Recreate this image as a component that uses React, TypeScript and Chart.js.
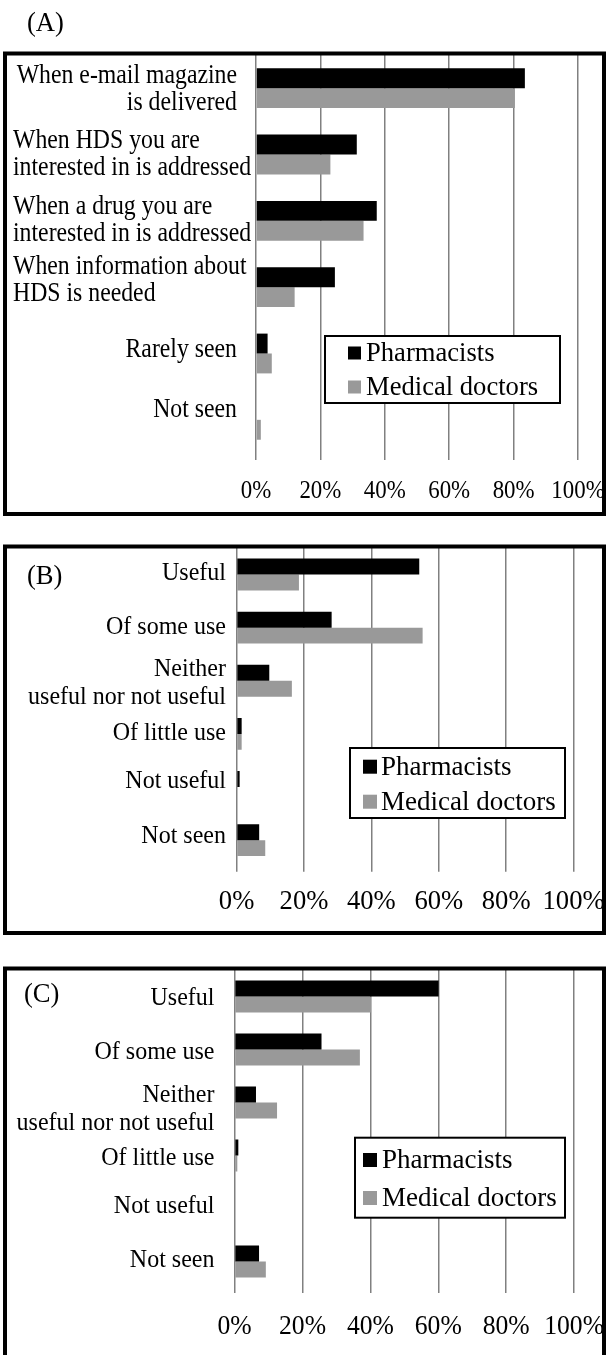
import React, { useEffect, useRef } from "react";
import { Chart, registerables } from "chart.js";

Chart.register(...registerables);

const FONT = '"Liberation Serif", "Times New Roman", serif';

// ---- data ----
const SERIES_NAMES = ["Pharmacists", "Medical doctors"];
const SERIES_COLORS = ["#000000", "#999999"];
const X_TICK_LABELS = ["0%", "20%", "40%", "60%", "80%", "100%"];
const PANEL_TITLES = ["(A)", "(B)", "(C)"];

const A_CATEGORIES = [
  ["When e-mail magazine", "is delivered"],
  ["When HDS you are", "interested in is addressed"],
  ["When a drug you are", "interested in is addressed"],
  ["When information about", "HDS is needed"],
  ["Rarely seen"],
  ["Not seen"],
];
const A_PHARMACISTS = [83.5, 31.3, 37.5, 24.5, 3.6, 0];
const A_DOCTORS = [80.4, 23.1, 33.4, 12.0, 4.9, 1.5];

const USEFULNESS_CATEGORIES = [
  ["Useful"],
  ["Of some use"],
  ["Neither", "useful nor not useful"],
  ["Of little use"],
  ["Not useful"],
  ["Not seen"],
];
const B_PHARMACISTS = [54.2, 28.2, 9.7, 1.5, 0.9, 6.7];
const B_DOCTORS = [18.5, 55.2, 16.4, 1.5, 0, 8.5];
const C_PHARMACISTS = [60.1, 25.6, 6.3, 1.1, 0, 7.2];
const C_DOCTORS = [40.2, 36.9, 12.5, 0.8, 0, 9.2];

// ---- layout / style ----
type TextStyle = { size: number; sx: number };
type Spec = {
  title: string;
  top: number;
  height: number;
  labels: string[][];
  values: number[][];
  area: { left: number; right: number; top: number; bottom: number };
  box: { x1: number; y1: number; x2: number; y2: number };
  titlePos: { x: number; y: number };
  labelAlign: ("left" | "right")[];
  labelLeftX: number;
  labelRightX: number;
  labelDy: number[];
  lineGap: number;
  labelFont: TextStyle;
  tickFont: TextStyle;
  tickLength: number;
  tickDy: number;
  legendFont: TextStyle;
  legend: { x: number; y: number; w: number; h: number; rowY: number[]; sqX: number; sq: number; textX: number };
};

const W = 606;
const AXIS_H = 40;

const SPECS: Spec[] = [
  {
    title: PANEL_TITLES[0],
    top: 0,
    height: 530,
    labels: A_CATEGORIES,
    values: [A_PHARMACISTS, A_DOCTORS],
    area: { left: 256, right: 578, top: 55, bottom: 453 },
    box: { x1: 5, y1: 53.5, x2: 604, y2: 514 },
    titlePos: { x: 27, y: 24 },
    labelAlign: ["right", "left", "left", "left", "right", "right"],
    labelLeftX: 13,
    labelRightX: 237,
    labelDy: [1, 0, 0, -7, -4, -10],
    lineGap: 27,
    labelFont: { size: 27, sx: 0.88 },
    tickFont: { size: 26, sx: 0.88 },
    tickLength: 7,
    tickDy: 38,
    legendFont: { size: 28, sx: 0.95 },
    legend: { x: 325, y: 336, w: 235, h: 67, rowY: [353, 387], sqX: 348, sq: 13, textX: 366 },
  },
  {
    title: PANEL_TITLES[1],
    top: 530,
    height: 420,
    labels: USEFULNESS_CATEGORIES,
    values: [B_PHARMACISTS, B_DOCTORS],
    area: { left: 236.6, right: 573.6, top: 18, bottom: 336.7 },
    box: { x1: 5, y1: 16.5, x2: 604, y2: 403 },
    titlePos: { x: 27, y: 47 },
    labelAlign: ["right", "right", "right", "right", "right", "right"],
    labelLeftX: 13,
    labelRightX: 226,
    labelDy: [-1, 0, 3, 0, -6, -4],
    lineGap: 28,
    labelFont: { size: 25, sx: 0.96 },
    tickFont: { size: 28, sx: 0.95 },
    tickLength: 5,
    tickDy: 35,
    legendFont: { size: 27, sx: 1 },
    legend: { x: 350, y: 218, w: 215, h: 70, rowY: [236.7, 271.7], sqX: 363, sq: 14, textX: 381 },
  },
  {
    title: PANEL_TITLES[2],
    top: 950,
    height: 405,
    labels: USEFULNESS_CATEGORIES,
    values: [C_PHARMACISTS, C_DOCTORS],
    area: { left: 234.6, right: 574.1, top: 20, bottom: 338 },
    box: { x1: 5, y1: 18.5, x2: 604, y2: 430 },
    titlePos: { x: 24, y: 45 },
    labelAlign: ["right", "right", "right", "right", "right", "right"],
    labelLeftX: 13,
    labelRightX: 214.5,
    labelDy: [2, 3, 7, 3, -2, -1],
    lineGap: 28,
    labelFont: { size: 25, sx: 0.96 },
    tickFont: { size: 27, sx: 0.95 },
    tickLength: 5,
    tickDy: 38.7,
    legendFont: { size: 27, sx: 1 },
    legend: { x: 355, y: 187.7, w: 210, h: 80, rowY: [210, 248], sqX: 363, sq: 14, textX: 382 },
  },
];

function drawText(
  ctx: CanvasRenderingContext2D,
  text: string,
  x: number,
  y: number,
  st: TextStyle,
  align: CanvasTextAlign
) {
  ctx.save();
  ctx.font = `${st.size}px ${FONT}`;
  ctx.textAlign = align;
  ctx.textBaseline = "middle";
  ctx.translate(x, y);
  ctx.scale(st.sx, 1);
  ctx.fillText(text, 0, 0);
  ctx.restore();
}

function makeDecor(spec: Spec) {
  return {
    id: "panelDecor",
    afterDraw(chart: any) {
      const ctx = chart.ctx as CanvasRenderingContext2D;
      ctx.save();
      ctx.fillStyle = "#000";
      // x tick labels
      const xs = chart.scales.x;
      const ty = chart.chartArea.bottom + spec.tickDy;
      xs.ticks.forEach((t: any, i: number) => {
        drawText(ctx, X_TICK_LABELS[i], xs.getPixelForValue(t.value), ty, spec.tickFont, "center");
      });
      // category labels
      const ys = chart.scales.y;
      const labels = chart.data.labels as string[][];
      labels.forEach((lines, i) => {
        const cy = ys.getPixelForValue(i) + spec.labelDy[i];
        const align = spec.labelAlign[i];
        const x = align === "left" ? spec.labelLeftX : spec.labelRightX;
        lines.forEach((ln, k) => {
          drawText(ctx, ln, x, cy + (k - (lines.length - 1) / 2) * spec.lineGap, spec.labelFont, align);
        });
      });
      // panel title
      drawText(ctx, spec.title, spec.titlePos.x, spec.titlePos.y, { size: 28, sx: 0.95 }, "left");
      // legend
      const lg = spec.legend;
      ctx.fillStyle = "#fff";
      ctx.fillRect(lg.x, lg.y, lg.w, lg.h);
      ctx.lineWidth = 2;
      ctx.strokeStyle = "#000";
      ctx.strokeRect(lg.x, lg.y, lg.w, lg.h);
      chart.data.datasets.forEach((ds: any, i: number) => {
        const y = lg.rowY[i];
        ctx.fillStyle = ds.backgroundColor;
        ctx.fillRect(lg.sqX, y - lg.sq / 2, lg.sq, lg.sq);
        ctx.fillStyle = "#000";
        drawText(ctx, ds.label, lg.textX, y + 1, spec.legendFont, "left");
      });
      // panel border
      ctx.lineWidth = 4;
      ctx.strokeStyle = "#000";
      const b = spec.box;
      ctx.strokeRect(b.x1, b.y1, b.x2 - b.x1, b.y2 - b.y1);
      ctx.restore();
    },
  };
}

function Panel({ spec }: { spec: Spec }) {
  const ref = useRef<HTMLCanvasElement | null>(null);
  useEffect(() => {
    if (!ref.current) return;
    const chart = new Chart(ref.current, {
      type: "bar",
      data: {
        labels: spec.labels as any,
        datasets: SERIES_NAMES.map((name, i) => ({
          label: name,
          data: spec.values[i],
          backgroundColor: SERIES_COLORS[i],
          borderWidth: 0,
          barPercentage: 1,
          categoryPercentage: 0.6,
        })),
      },
      options: {
        indexAxis: "y",
        responsive: false,
        animation: false,
        devicePixelRatio: 1,
        layout: {
          padding: {
            left: spec.area.left,
            right: W - spec.area.right,
            top: spec.area.top,
            bottom: spec.height - spec.area.bottom - AXIS_H,
          },
        },
        plugins: { legend: { display: false }, tooltip: { enabled: false } },
        scales: {
          x: {
            type: "linear",
            min: 0,
            max: 100,
            afterFit: (scale: any) => {
              scale.height = AXIS_H;
            },
            ticks: {
              stepSize: 20,
              display: false,
            },
            grid: {
              color: "#808080",
              tickColor: "#808080",
              lineWidth: 1.5,
              tickLength: spec.tickLength,
              drawTicks: true,
            },
            border: { display: false },
          },
          y: {
            type: "category",
            display: false,
          },
        },
      },
      plugins: [makeDecor(spec)],
    } as any);
    return () => chart.destroy();
  }, [spec]);
  return (
    <canvas
      ref={ref}
      width={W}
      height={spec.height}
      style={{ position: "absolute", left: 0, top: spec.top, width: W, height: spec.height, display: "block" }}
    />
  );
}

export default function App() {
  return (
    <div style={{ position: "absolute", left: 0, top: 0, width: W, height: 1355, background: "#fff", overflow: "hidden" }}>
      {SPECS.map((s) => (
        <Panel key={s.title} spec={s} />
      ))}
    </div>
  );
}
